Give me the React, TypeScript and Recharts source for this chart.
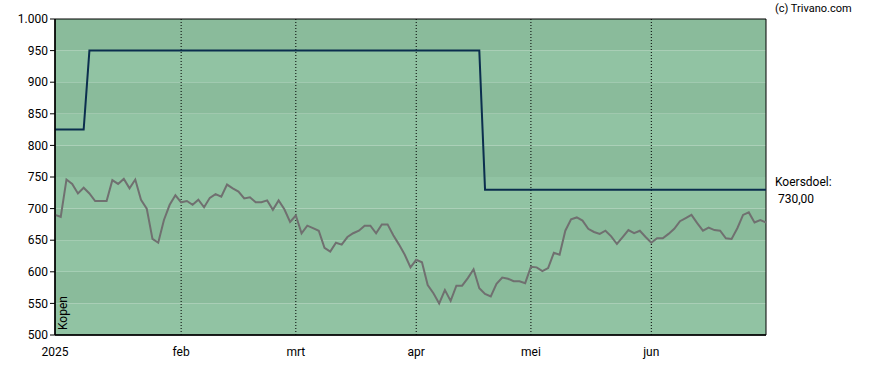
import React from 'react';
import {
  LineChart,
  Line,
  XAxis,
  YAxis,
  ReferenceArea,
  ReferenceLine,
} from 'recharts';

// closing prices per trading day, Jan 2 .. Jun 30 2025
const prices = [
  690, 687, 746, 739, 724, 733, 724, 712, 712, 712,
  745, 739, 747, 732, 746, 714, 700, 652, 646, 682,
  706, 721, 710, 712, 706, 714, 702, 717, 723, 719,
  738, 732, 727, 716, 718, 710, 710, 713, 698, 713,
  699, 679, 689, 661, 673, 669, 665, 638, 632, 646,
  643, 655, 661, 665, 673, 673, 661, 675, 675, 658,
  643, 627, 607, 619, 615, 579, 566, 550, 571, 554,
  578, 578, 590, 604, 574, 565, 561, 581, 591, 589,
  585, 585, 582, 608, 607, 601, 606, 630, 627, 665,
  683, 686, 681, 668, 663, 660, 665, 656, 644, 655,
  666, 661, 665, 655, 646, 653, 653, 660, 668, 680,
  685, 690, 677, 665, 670, 666, 665, 653, 652, 669,
  690, 694, 678, 682, 678,
];

// analyst price target (koersdoel) changes, by trading-day index
const targetIdx = [0, 5, 6, 74, 75, 124];
const targetVal = [825, 825, 950, 950, 730, 730];

const monthTicks = [0, 22, 42, 63, 83, 104];
const monthLabels = ['2025', 'feb', 'mrt', 'apr', 'mei', 'jun'];

const yTicks = [500, 550, 600, 650, 700, 750, 800, 850, 900, 950, 1000];

const priceData = prices.map((v, i) => ({ i, price: v }));
const targetData = targetIdx.map((i, k) => ({ i, target: targetVal[k] }));

const BAND_LIGHT = '#91c3a3';
const BAND_DARK = '#8abb9b';
const font = 'Roboto, "Liberation Sans", Arial, sans-serif';

export default function App() {
  return (
    <div style={{ position: 'absolute', left: 0, top: 0, width: 888, height: 370, background: '#fff', fontFamily: font }}>
      <LineChart
        width={888}
        height={370}
        margin={{ top: 19, right: 122, bottom: 5, left: 0 }}
      >
        {yTicks.slice(0, -1).map((y, k) => (
          <ReferenceArea
            key={y}
            x1={0}
            x2={124}
            y1={y}
            y2={yTicks[k + 1]}
            fill={k % 2 === 0 ? BAND_LIGHT : BAND_DARK}
            fillOpacity={1}
            stroke="none"
          />
        ))}
        <XAxis
          type="number"
          dataKey="i"
          domain={[0, 124]}
          ticks={monthTicks}
          tickFormatter={(v) => monthLabels[monthTicks.indexOf(v)]}
          tickLine={false}
          axisLine={{ stroke: '#000', strokeWidth: 1.5 }}
          tick={{ fill: '#000', fontSize: 12, fontFamily: font }}
          tickMargin={6}
          height={30}
        />
        <YAxis
          type="number"
          domain={[500, 1000]}
          ticks={yTicks}
          interval={0}
          tickFormatter={(v) => (v >= 1000 ? v.toLocaleString('nl-NL') : String(v))}
          width={55}
          tickSize={5}
          tickLine={{ stroke: '#000' }}
          axisLine={{ stroke: '#000', strokeWidth: 1.5 }}
          tick={{ fill: '#000', fontSize: 12, fontFamily: font }}
        />
        {monthTicks.slice(1).map((x) => (
          <ReferenceLine
            key={x}
            x={x}
            stroke="#000"
            strokeWidth={1}
            strokeDasharray="1 2"
          />
        ))}
        <ReferenceArea
          x1={0}
          x2={124}
          y1={500}
          y2={1000}
          fill="none"
          stroke="#000"
          strokeWidth={1}
        />
        <Line
          data={priceData}
          dataKey="price"
          type="linear"
          stroke="#707070"
          strokeWidth={2}
          dot={false}
          isAnimationActive={false}
        />
        <Line
          data={targetData}
          dataKey="target"
          type="linear"
          stroke="#0b2e4e"
          strokeWidth={2}
          dot={false}
          isAnimationActive={false}
        />
      </LineChart>
      <div style={{ position: 'absolute', left: 775, top: 2, fontSize: 11, color: '#000' }}>(c) Trivano.com</div>
      <div style={{ position: 'absolute', left: 775, top: 175, fontSize: 12, color: '#000' }}>Koersdoel:</div>
      <div style={{ position: 'absolute', left: 778, top: 192, fontSize: 12, color: '#000' }}>730,00</div>
      <div
        style={{
          position: 'absolute',
          left: 56,
          top: 296,
          fontSize: 12,
          color: '#000',
          transform: 'rotate(-90deg)',
          transformOrigin: 'left top',
          width: 40,
        }}
      >
        <span style={{ position: 'absolute', left: -34, top: 0 }}>Kopen</span>
      </div>
    </div>
  );
}
